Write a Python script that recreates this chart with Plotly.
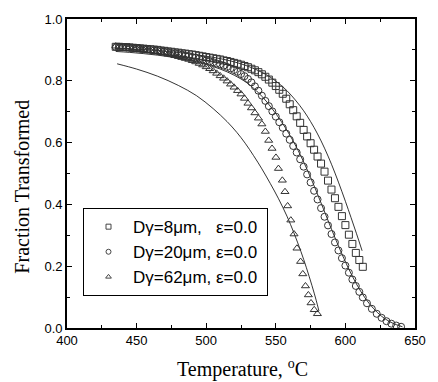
import plotly.graph_objects as go

# ---------------- data ----------------
sq_T = [435.0, 437.5, 440.0, 442.5, 445.0, 447.5, 450.0, 452.5, 455.0, 457.5, 460.0, 462.5,
        465.0, 467.5, 470.0, 472.5, 475.0, 477.5, 480.0, 482.5, 485.0, 487.5, 490.0, 492.5,
        495.0, 497.5, 500.0, 502.5, 505.0, 507.5, 510.0, 512.5, 515.0, 517.5, 520.0, 522.5,
        525.0, 527.5, 530.0, 532.5, 535.0, 537.5, 540.0, 542.5, 545.0, 547.5, 550.0, 552.5,
        555.0, 557.5, 560.0, 562.5, 565.0, 567.5, 570.0, 572.5, 575.0, 577.5, 580.0, 582.5,
        585.0, 587.5, 590.0, 592.5, 595.0, 597.5, 600.0, 602.5, 605.0, 607.5, 610.0, 612.5]
sq_f = [0.910, 0.910, 0.909, 0.909, 0.908, 0.907, 0.906, 0.905, 0.904, 0.903, 0.902, 0.901,
        0.900, 0.898, 0.897, 0.895, 0.894, 0.892, 0.891, 0.889, 0.888, 0.886, 0.885, 0.883,
        0.881, 0.879, 0.877, 0.875, 0.873, 0.871, 0.869, 0.866, 0.864, 0.861, 0.858, 0.855,
        0.852, 0.848, 0.844, 0.839, 0.834, 0.828, 0.821, 0.813, 0.804, 0.794, 0.783, 0.771,
        0.758, 0.742, 0.724, 0.705, 0.685, 0.664, 0.641, 0.620, 0.598, 0.577, 0.555, 0.532,
        0.506, 0.477, 0.448, 0.420, 0.392, 0.362, 0.333, 0.302, 0.272, 0.243, 0.220, 0.198]

ci_T = [435.0, 437.5, 440.0, 442.5, 445.0, 447.5, 450.0, 452.5, 455.0, 457.5, 460.0, 462.5,
        465.0, 467.5, 470.0, 472.5, 475.0, 477.5, 480.0, 482.5, 485.0, 487.5, 490.0, 492.5,
        495.0, 497.5, 500.0, 502.5, 505.0, 507.5, 510.0, 512.5, 515.0, 517.5, 520.0, 522.5,
        525.0, 527.5, 530.0, 532.5, 535.0, 537.5, 540.0, 542.5, 545.0, 547.5, 550.0, 552.5,
        555.0, 557.5, 560.0, 562.5, 565.0, 567.5, 570.0, 572.5, 575.0, 577.5, 580.0, 582.5,
        585.0, 587.5, 590.0, 592.5, 595.0, 597.5, 600.0, 602.5, 605.0, 607.5, 610.0, 612.5,
        615.5, 619.0, 622.5, 626.0, 629.5, 633.0, 636.5, 640.0]
ci_f = [0.910, 0.910, 0.909, 0.908, 0.907, 0.906, 0.905, 0.904, 0.902, 0.901, 0.900, 0.898,
        0.897, 0.895, 0.894, 0.892, 0.890, 0.889, 0.887, 0.885, 0.882, 0.880, 0.877, 0.875,
        0.872, 0.869, 0.866, 0.863, 0.860, 0.856, 0.853, 0.849, 0.845, 0.840, 0.835, 0.829,
        0.822, 0.815, 0.806, 0.795, 0.782, 0.768, 0.752, 0.735, 0.718, 0.701, 0.684, 0.666,
        0.648, 0.629, 0.609, 0.589, 0.568, 0.546, 0.522, 0.497, 0.471, 0.444, 0.416, 0.388,
        0.360, 0.332, 0.304, 0.277, 0.251, 0.226, 0.202, 0.179, 0.157, 0.136, 0.117, 0.099,
        0.080, 0.062, 0.046, 0.033, 0.022, 0.014, 0.008, 0.004]

tr_T = [435.0, 437.5, 440.0, 442.5, 445.0, 447.5, 450.0, 452.5, 455.0, 457.5, 460.0, 462.5,
        465.0, 467.5, 470.0, 472.5, 475.0, 477.5, 480.0, 482.5, 485.0, 487.5, 490.0, 492.5,
        495.0, 497.5, 500.0, 502.5, 505.0, 507.5, 510.0, 512.5, 515.0, 517.5, 520.0, 522.5,
        525.0, 527.5, 530.0, 532.5, 535.0, 537.5, 540.0, 542.5, 544.9, 547.3, 550.1, 551.9,
        554.7, 556.6, 558.5, 560.8, 563.1, 565.2, 567.8, 569.4, 571.3, 573.4, 575.3, 577.6, 579.9]
tr_f = [0.912, 0.911, 0.911, 0.910, 0.909, 0.907, 0.905, 0.903, 0.901, 0.899, 0.897, 0.895,
        0.893, 0.891, 0.889, 0.886, 0.884, 0.881, 0.878, 0.875, 0.872, 0.869, 0.865, 0.861,
        0.856, 0.851, 0.845, 0.839, 0.832, 0.824, 0.816, 0.808, 0.799, 0.789, 0.779, 0.768,
        0.757, 0.743, 0.727, 0.712, 0.696, 0.679, 0.660, 0.636, 0.607, 0.581, 0.552, 0.516,
        0.478, 0.441, 0.395, 0.349, 0.304, 0.258, 0.215, 0.175, 0.136, 0.107, 0.081, 0.059, 0.046]

# model curves (solid lines)
fit_sq_T = [435, 445, 455, 465, 475, 485, 495, 505, 515, 525, 535, 545, 552, 558, 564, 570,
            575, 580, 585, 590, 595, 600, 604, 608, 612]
fit_sq_f = [0.905, 0.903, 0.901, 0.898, 0.894, 0.889, 0.883, 0.876, 0.867, 0.855, 0.838, 0.815,
            0.792, 0.768, 0.738, 0.703, 0.668, 0.628, 0.582, 0.530, 0.472, 0.410, 0.358, 0.305, 0.250]

fit_ci_T = [435, 445, 455, 465, 475, 485, 495, 505, 515, 525, 532, 540, 547, 554, 560, 566,
            572, 578, 584, 590, 596, 602, 608, 614, 620, 626, 632, 637, 641]
fit_ci_f = [0.895, 0.892, 0.888, 0.883, 0.877, 0.869, 0.859, 0.846, 0.829, 0.806, 0.784, 0.750,
            0.712, 0.668, 0.625, 0.575, 0.518, 0.455, 0.388, 0.320, 0.255, 0.195, 0.142, 0.098,
            0.064, 0.038, 0.020, 0.010, 0.004]

fit_tr_T = [436, 450, 465, 480, 493, 505, 515, 522, 528, 534, 540, 546, 552, 558, 563, 568,
            572, 576, 579, 581]
fit_tr_f = [0.855, 0.838, 0.815, 0.785, 0.752, 0.710, 0.668, 0.633, 0.598, 0.558, 0.515, 0.468,
            0.418, 0.362, 0.308, 0.248, 0.195, 0.137, 0.090, 0.055]

legend_names = ["D\u03b3=8\u03bcm,   \u03b5=0.0", "D\u03b3=20\u03bcm, \u03b5=0.0", "D\u03b3=62\u03bcm, \u03b5=0.0"]
x_ticks = [400, 450, 500, 550, 600, 650]
y_ticks = [0.0, 0.2, 0.4, 0.6, 0.8, 1.0]

# ---------------- figure ----------------
fig = go.Figure()

line_style = dict(color="black", width=0.8)
for T, f in [(fit_sq_T, fit_sq_f), (fit_ci_T, fit_ci_f), (fit_tr_T, fit_tr_f)]:
    fig.add_trace(go.Scatter(x=T, y=f, mode="lines", line=dict(shape="spline", **line_style),
                             showlegend=False, hoverinfo="skip"))

symbols = ["square-open", "circle-open", "triangle-up-open"]
for (T, f), sym in zip([(sq_T, sq_f), (ci_T, ci_f), (tr_T, tr_f)], symbols):
    fig.add_trace(go.Scatter(x=T, y=f, mode="markers",
                             marker=dict(symbol=sym, size=7, color="#333333",
                                         line=dict(width=1, color="#333333")),
                             showlegend=False))

# legend entries (legend symbols are smaller than the plotted ones)
pad = "\u00a0"
for name, sym in zip(legend_names, symbols):
    fig.add_trace(go.Scatter(x=[None], y=[None], mode="markers", name=name + pad,
                             marker=dict(symbol=sym, size=5, color="#444444",
                                         line=dict(width=1, color="#444444"))))

axis_common = dict(
    showline=True, linecolor="black", linewidth=1.6, mirror="allticks",
    ticks="inside", ticklen=5, tickwidth=1.2, tickcolor="black",
    showgrid=False, zeroline=False,
    tickfont=dict(family="Liberation Sans, Arial", size=13, color="black"),
)

fig.update_xaxes(range=[400, 650], tickvals=x_ticks,
                 minor=dict(dtick=25, ticks="inside", ticklen=3, tickwidth=1.2, tickcolor="black"),
                 **axis_common)
fig.update_yaxes(range=[0, 1.0], tickvals=y_ticks, tickformat=".1f",
                 minor=dict(dtick=0.1, ticks="inside", ticklen=3, tickwidth=1.2, tickcolor="black"),
                 **axis_common)

fig.add_annotation(text="Fraction Transformed", xref="paper", yref="paper",
                   x=-0.128, y=0.459, xanchor="center", yanchor="middle",
                   showarrow=False, textangle=-90,
                   font=dict(family="Liberation Serif, Times New Roman", size=20, color="black"))
fig.add_annotation(text="Temperature, <sup>o</sup>C", xref="paper", yref="paper",
                   x=0.505, y=-0.131, xanchor="center", yanchor="middle", showarrow=False,
                   font=dict(family="Liberation Serif, Times New Roman", size=20, color="black"))

fig.update_layout(
    width=438, height=382,
    margin=dict(l=67, r=16, t=18, b=54),
    plot_bgcolor="white", paper_bgcolor="white",
    legend=dict(x=0.046, y=0.388, xanchor="left", yanchor="top",
                bgcolor="white", bordercolor="black", borderwidth=1,
                font=dict(family="Liberation Sans, Arial", size=17, color="black"),
                tracegroupgap=0, itemwidth=39),
)

fig.write_html("out.html")
